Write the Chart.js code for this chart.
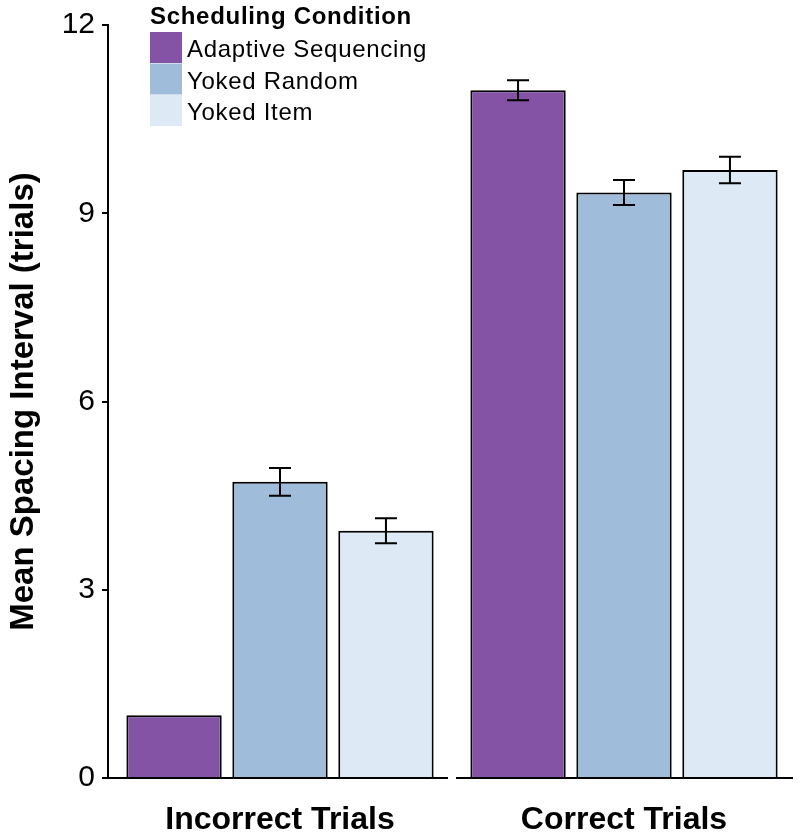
<!DOCTYPE html>
<html>
<head>
<meta charset="utf-8">
<script src="https://cdn.jsdelivr.net/npm/chart.js@4"></script>
<style>
  html, body { margin: 0; padding: 0; background: #fff; }
  #wrap { width: 800px; height: 840px; }
</style>
</head>
<body>
<div id="wrap"><canvas id="chart" width="800" height="840"></canvas></div>
<script>
const FONT = "'Liberation Sans', Arial, Helvetica, sans-serif";

// data
const groups = ['Incorrect Trials', 'Correct Trials'];
const conditions = ['Adaptive Sequencing', 'Yoked Random', 'Yoked Item'];
const adaptive = [1.0, 10.96];
const yokedRandom = [4.72, 9.33];
const yokedItem = [3.94, 9.69];
// standard errors
const adaptiveErr = [0, 0.16];
const yokedRandomErr = [0.22, 0.2];
const yokedItemErr = [0.2, 0.21];
const yTicks = [0, 3, 6, 9, 12];

const colors = ['#8553a6', '#9fbcdb', '#dde9f4'];
const values = [adaptive, yokedRandom, yokedItem];
const errors = [adaptiveErr, yokedRandomErr, yokedItemErr];

// error bars on top of each bar
const errorBars = {
  id: 'errorBars',
  afterDatasetsDraw(chart) {
    const ctx = chart.ctx;
    const y = chart.scales.y;
    ctx.save();
    ctx.strokeStyle = '#000';
    ctx.lineWidth = 2;
    chart.data.datasets.forEach((ds, i) => {
      chart.getDatasetMeta(i).data.forEach((bar, j) => {
        const e = errors[i][j];
        if (!e) return;
        const v = ds.data[j];
        const top = y.getPixelForValue(v + e);
        const bot = y.getPixelForValue(v - e);
        ctx.beginPath();
        ctx.moveTo(bar.x, top); ctx.lineTo(bar.x, bot);
        ctx.moveTo(bar.x - 11, top); ctx.lineTo(bar.x + 11, top);
        ctx.moveTo(bar.x - 11, bot); ctx.lineTo(bar.x + 11, bot);
        ctx.stroke();
      });
    });
    ctx.restore();
  }
};

// broken baseline, one segment per group
const baseline = {
  id: 'baseline',
  afterDatasetsDraw(chart) {
    const ctx = chart.ctx;
    const x = chart.scales.x;
    const y0 = chart.scales.y.getPixelForValue(0);
    const n = groups.length;
    const w = (x.right - x.left) / n;
    ctx.save();
    ctx.strokeStyle = '#000';
    ctx.lineWidth = 2;
    for (let i = 0; i < n; i++) {
      const l = x.left + i * w + (i === 0 ? -5 : 4);
      const r = x.left + (i + 1) * w - (i === n - 1 ? 3 : 4);
      ctx.beginPath();
      ctx.moveTo(l, y0); ctx.lineTo(r, y0);
      ctx.stroke();
    }
    ctx.restore();
  }
};

// legend with title and stacked swatches
const legendBox = {
  id: 'legendBox',
  afterDraw(chart) {
    const ctx = chart.ctx;
    ctx.save();
    ctx.fillStyle = '#000';
    ctx.textBaseline = 'alphabetic';
    ctx.letterSpacing = '0.7px';
    ctx.font = 'bold 24px ' + FONT;
    ctx.fillText('Scheduling Condition', 150, 24);
    ctx.font = '24px ' + FONT;
    conditions.forEach((c, i) => {
      const top = 32 + i * 31.5;
      ctx.fillStyle = colors[i];
      ctx.fillRect(150, top, 32, 31);
      ctx.fillStyle = '#000';
      ctx.fillText(c, 187, top + 25);
    });
    ctx.restore();
  }
};

new Chart(document.getElementById('chart'), {
  type: 'bar',
  data: {
    labels: groups,
    datasets: conditions.map((c, i) => ({
      label: c,
      data: values[i],
      backgroundColor: colors[i],
      borderColor: '#000',
      borderWidth: 2,
      borderSkipped: 'start',
      categoryPercentage: 0.924,
      barPercentage: 0.9
    }))
  },
  options: {
    responsive: false,
    animation: false,
    layout: { padding: { top: 22, right: 4, left: 0, bottom: 0 } },
    plugins: { legend: { display: false }, tooltip: { enabled: false } },
    scales: {
      x: {
        grid: { display: false, drawTicks: false },
        border: { display: false },
        ticks: { color: '#000', padding: 23, font: { family: FONT, size: 32, weight: 'bold' } },
        afterFit(s) { s.height = 62; }
      },
      y: {
        min: 0,
        max: 12,
        afterBuildTicks(s) { s.ticks = yTicks.map(v => ({ value: v })); },
        grid: { drawOnChartArea: false, drawTicks: true, tickLength: 6, color: '#000', lineWidth: 2 },
        border: { display: true, color: '#000', width: 2 },
        ticks: { color: '#000', padding: 7, font: { family: FONT, size: 30 } },
        title: {
          display: true,
          text: 'Mean Spacing Interval (trials)',
          color: '#000',
          padding: { top: 4, bottom: 0 },
          font: { family: FONT, size: 33, weight: 'bold' }
        },
        afterFit(s) { s.width = 108; }
      }
    }
  },
  plugins: [errorBars, baseline, legendBox]
});
</script>
</body>
</html>
